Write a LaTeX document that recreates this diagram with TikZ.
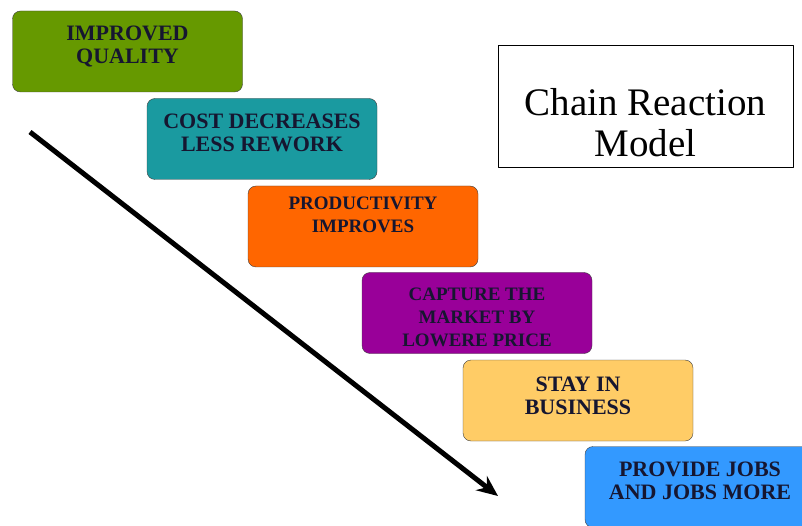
\documentclass[tikz,border=0pt]{standalone}
\usepackage{fontspec}
\setmainfont{Liberation Serif}
\usetikzlibrary{arrows.meta}
\definecolor{qgreen}{RGB}{102,153,0}
\definecolor{qteal}{RGB}{26,154,160}
\definecolor{qorange}{RGB}{255,102,0}
\definecolor{qpurple}{RGB}{153,0,153}
\definecolor{qsand}{RGB}{255,204,102}
\definecolor{qblue}{RGB}{51,153,255}
\definecolor{qtext}{RGB}{22,22,48}
\begin{document}
\begin{tikzpicture}[x=1pt, y=-1pt, line join=round, >={Stealth[length=21pt, width=18pt]},
 stage/.style={draw=black!75, rounded corners=8pt, minimum width=230pt, minimum height=81pt, inner sep=0pt},
 words/.style={anchor=north, yshift=-15pt, inner sep=0pt, align=center, text=qtext, font=\fontsize{22}{23}\selectfont\bfseries},
 small/.style={font=\fontsize{19}{23}\selectfont\bfseries}]
 \path[use as bounding box, clip] (0,0) rectangle (802,526);
 \node[stage, fill=qgreen, label={[words]north:{IMPROVED\\QUALITY}}] (quality) at (127.5,51.5) {};
 \node[stage, fill=qteal, label={[words]north:{COST DECREASES\\LESS REWORK}}] (cost) at (262,139) {};
 \node[stage, fill=qorange, label={[words, small, yshift=4pt]north:{PRODUCTIVITY\\IMPROVES}}] (prod) at (363,226.5) {};
 \node[stage, fill=qpurple, label={[words, small]north:{CAPTURE THE\\MARKET BY\\LOWERE PRICE}}] (market) at (477,313) {};
 \node[stage, fill=qsand, label={[words, yshift=-2pt]north:{STAY IN\\BUSINESS}}] (stay) at (578,400.5) {};
 \node[stage, fill=qblue, label={[words]north:{PROVIDE JOBS\\AND JOBS MORE}}] (jobs) at (700,487) {};
 \node[draw, minimum width=295pt, minimum height=122pt, inner sep=0pt,
  label={[anchor=north, yshift=-43pt, inner sep=0pt, align=center, font=\fontsize{39}{41}\selectfont]north:{Chain Reaction\\Model}}] (title) at (645.5,106) {};
 \coordinate (from) at (30,132);
 \coordinate (to) at (498,496);
 \draw[->, line width=5pt] (from) -- (to);
\end{tikzpicture}
\end{document}
